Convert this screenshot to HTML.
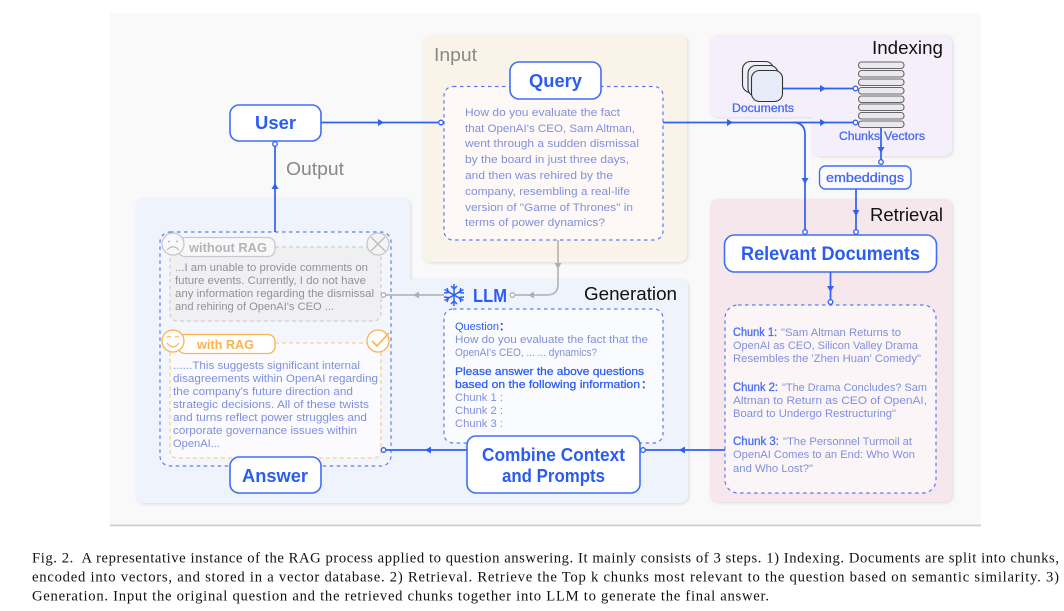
<!DOCTYPE html>
<html><head><meta charset="utf-8">
<style>
html,body{margin:0;padding:0;background:#fff;width:1064px;height:611px;overflow:hidden}
svg{display:block;position:absolute;left:0;top:0}
text{font-family:"Liberation Sans","Noto Sans CJK SC",sans-serif}
.t{font-size:11px;fill:#7f90dc}
.g{font-size:11px;fill:#929297}
.h{font-size:18px;fill:#111}
.o{font-size:18px;fill:#888}
.b{font-weight:bold;fill:#2b5cf2}
.l{font-size:11.500px;fill:#4a6df0;stroke:#4a6df0;stroke-width:.3}
.c{font-family:"Liberation Serif",serif;font-size:14.650px;fill:#111}
.w{fill:#fff;stroke:#3f6ff3;stroke-width:1.6}
.d{stroke:#5b7cf0;stroke-width:1.200;stroke-dasharray:3.500 3.500}
.ln{fill:none;stroke:#2f5ff3;stroke-width:1.700}
.gl{fill:none;stroke:#b6b6b6;stroke-width:1.700}
.a{fill:#2f5ff3}.ga{fill:#b0b0b0}
.dot{fill:#fff;stroke:#2f5ff3;stroke-width:1.300}
.gdot{fill:#fff;stroke:#b0b0b0;stroke-width:1.300}
.p{filter:drop-shadow(1px 1.5px 1.5px rgba(0,0,0,.12))}
.fig{filter:blur(.3px)}
</style></head><body>
<svg width="1064" height="611" viewBox="0 0 1064 611" xmlns="http://www.w3.org/2000/svg">
<rect width="1064" height="611" fill="#fff"/>
<rect x="110" y="13" width="871" height="513" fill="#f9f9f9"/>
<rect x="110" y="524.500" width="871" height="1.800" fill="#d0d0d0"/>
<g class="fig">
<!-- panels -->
<path class="p" d="M144 198H402a8 8 0 0 1 8 8V279H680a8 8 0 0 1 8 8V495a8 8 0 0 1-8 8H144a8 8 0 0 1-8-8V206a8 8 0 0 1 8-8Z" fill="#eff3fc"/>
<rect class="p" x="423" y="35" width="264" height="227" rx="8" fill="#faf3ea"/>
<path class="p" d="M718 35H944a8 8 0 0 1 8 8V148a8 8 0 0 1-8 8H820a8 8 0 0 1-8-8V117H718a8 8 0 0 1-8-8V43a8 8 0 0 1 8-8Z" fill="#f4effb"/>
<rect class="p" x="710" y="199" width="242" height="303" rx="8" fill="#f6e7ec"/>

<!-- panel titles -->
<text class="o" x="434" y="61" textLength="43" lengthAdjust="spacingAndGlyphs">Input</text>
<text class="o" x="286" y="175" textLength="58" lengthAdjust="spacingAndGlyphs">Output</text>
<text class="h" x="872" y="54" textLength="71" lengthAdjust="spacingAndGlyphs">Indexing</text>
<text class="h" x="870" y="221" textLength="73" lengthAdjust="spacingAndGlyphs">Retrieval</text>
<text class="h" x="584" y="300" textLength="93" lengthAdjust="spacingAndGlyphs">Generation</text>

<!-- dashed containers -->
<rect class="d" x="444" y="86.500" width="219" height="153.500" rx="9" fill="#fef9f6"/>
<rect class="d" x="444" y="309" width="219" height="134" rx="9" fill="#fafbfe"/>
<rect class="d" x="725" y="305" width="211" height="188" rx="13" fill="#fcf5f8"/>
<rect class="d" x="160" y="232" width="231" height="234" rx="10" fill="#f4f6fd"/>
<rect x="170" y="247" width="211" height="74" rx="7" fill="#f0f0f3" stroke="#cfcfcf" stroke-width="1.200" stroke-dasharray="4 3"/>
<rect x="170" y="343" width="211" height="115" rx="7" fill="#fafaff" stroke="#fbcf8f" stroke-width="1.300" stroke-dasharray="4 3"/>

<!-- connectors -->
<path class="ln" d="M321 122.500H441"/>
<path class="ln" d="M663 122.500H855"/>
<path class="ln" d="M793 122.500Q805 122.500 805 134.500V232"/>
<path class="ln" d="M783 88.500H855"/>
<path class="ln" d="M881 127V162"/>
<path class="ln" d="M856 189V232"/>
<path class="ln" d="M830.500 272V302"/>
<path class="ln" d="M725 450H643"/>
<path class="ln" d="M467 450H386"/>
<path class="ln" d="M275 232V144"/>
<path class="gl" d="M558 240V284Q558 295 547 295H515"/>
<path class="gl" d="M444 295H386"/>

<polygon class="a" points="378,119 384,122.500 378,126"/>
<polygon class="a" points="727,119 733,122.500 727,126"/>
<polygon class="a" points="820,119 826,122.500 820,126"/>
<polygon class="a" points="820,85 826,88.500 820,92"/>
<polygon class="a" points="801.500,178 808.500,178 805,184"/>
<polygon class="a" points="877.500,147 884.500,147 881,153"/>
<polygon class="a" points="852.500,210 859.500,210 856,216"/>
<polygon class="a" points="827,286 834,286 830.500,292"/>
<polygon class="a" points="685,446.500 679,450 685,453.500"/>
<polygon class="a" points="431,446.500 425,450 431,453.500"/>
<polygon class="a" points="271.500,189 278.500,189 275,183"/>
<polygon class="ga" points="554.500,263 561.500,263 558,269"/>
<polygon class="ga" points="534,291.500 528,295 534,298.500"/>
<polygon class="ga" points="419,291.500 413,295 419,298.500"/>

<circle class="dot" cx="441" cy="122.500" r="2.300"/>
<circle class="dot" cx="855.500" cy="122.500" r="2.300"/>
<circle class="dot" cx="855.500" cy="88.500" r="2.300"/>
<circle class="dot" cx="881" cy="162" r="2.300"/>
<circle class="dot" cx="856" cy="232" r="2.300"/>
<circle class="dot" cx="805" cy="232" r="2.300"/>
<circle class="dot" cx="830.500" cy="302" r="2.300"/>
<circle class="dot" cx="643" cy="450" r="2.300"/>
<circle class="dot" cx="383.500" cy="450" r="2.300"/>
<circle class="dot" cx="275" cy="144" r="2.300"/>
<circle class="gdot" cx="512.500" cy="295" r="2.300"/>
<circle class="gdot" cx="383.500" cy="295" r="2.300"/>

<!-- white nodes -->
<rect class="w" x="230" y="105" width="91" height="36" rx="9"/>
<rect class="w" x="510" y="62" width="91" height="37" rx="9"/>
<rect class="w" x="230" y="457" width="91" height="36" rx="9"/>
<rect class="w" x="467" y="436" width="173" height="57" rx="9"/>
<rect class="w" x="724.500" y="235" width="212" height="37" rx="10"/>
<rect x="819.500" y="166" width="91.500" height="23" rx="6" fill="#fafaff" stroke="#3f6ff3" stroke-width="1.400"/>

<text class="b" font-size="18" x="255" y="129" textLength="41" lengthAdjust="spacingAndGlyphs">User</text>
<text class="b" font-size="18" x="529" y="87" textLength="53" lengthAdjust="spacingAndGlyphs">Query</text>
<text class="b" font-size="18" x="242" y="482" textLength="66" lengthAdjust="spacingAndGlyphs">Answer</text>
<text class="b" font-size="18" x="482" y="461" textLength="143" lengthAdjust="spacingAndGlyphs">Combine Context</text>
<text class="b" font-size="18" x="502" y="482" textLength="103" lengthAdjust="spacingAndGlyphs">and Prompts</text>
<text class="b" font-size="19" x="741" y="260" textLength="179" lengthAdjust="spacingAndGlyphs">Relevant Documents</text>
<text class="b" font-size="18" x="473" y="302" textLength="34" lengthAdjust="spacingAndGlyphs">LLM</text>
<text font-size="13" fill="#4469f0" stroke="#4469f0" stroke-width=".3" x="826" y="182" textLength="78" lengthAdjust="spacingAndGlyphs">embeddings</text>
<text class="l" x="732" y="112" textLength="62" lengthAdjust="spacingAndGlyphs">Documents</text>
<text class="l" x="839" y="140" textLength="41" lengthAdjust="spacingAndGlyphs">Chunks</text>
<text class="l" x="884" y="140" textLength="41" lengthAdjust="spacingAndGlyphs">Vectors</text>

<!-- documents icon -->
<rect x="742.500" y="61.500" width="31" height="31" rx="8" fill="#eef0f8" stroke="#333" stroke-width="1.100"/>
<rect x="748" y="65.500" width="30" height="31" rx="8" fill="#e8ebf6" stroke="#333" stroke-width="1.100"/>
<rect x="751.500" y="70.500" width="31" height="31" rx="8" fill="#e8ecf8" stroke="#333" stroke-width="1.100"/>

<!-- chunk bars -->
<g fill="#e9e9ef" stroke="#666" stroke-width="1.100">
<rect x="858.500" y="62" width="45.500" height="6.500" rx="3"/>
<rect x="858.500" y="70.500" width="45.500" height="6.500" rx="3"/>
<rect x="858.500" y="79" width="45.500" height="6.500" rx="3"/>
<rect x="858.500" y="87.500" width="45.500" height="6.500" rx="3"/>
<rect x="858.500" y="96" width="45.500" height="6.500" rx="3"/>
<rect x="858.500" y="104" width="45.500" height="6.500" rx="3"/>
<rect x="858.500" y="112.500" width="45.500" height="6.500" rx="3"/>
<rect x="858.500" y="121" width="45.500" height="6.500" rx="3"/>
</g>

<!-- snowflake -->
<g stroke="#2f5ff3" stroke-width="1.500" fill="none">
<path d="M454 284V306M444.500 289.500L463.500 300.500M463.500 289.500L444.500 300.500"/>
<path d="M451 286L454 289L457 286M451 304L454 301L457 304"/>
<path d="M444 293L448.500 292.500L447 288M464 293L459.500 292.500L461 288M444 297L448.500 297.500L447 302M464 297L459.500 297.500L461 302"/>
</g>

<!-- query text -->
<text class="t" x="465" y="116" textLength="155" lengthAdjust="spacingAndGlyphs">How do you evaluate the fact</text>
<text class="t" x="465" y="132" textLength="170" lengthAdjust="spacingAndGlyphs">that OpenAI's CEO, Sam Altman,</text>
<text class="t" x="465" y="147" textLength="174" lengthAdjust="spacingAndGlyphs">went through a sudden dismissal</text>
<text class="t" x="465" y="163" textLength="164" lengthAdjust="spacingAndGlyphs">by the board in just three days,</text>
<text class="t" x="465" y="179" textLength="148" lengthAdjust="spacingAndGlyphs">and then was rehired by the</text>
<text class="t" x="465" y="195" textLength="165" lengthAdjust="spacingAndGlyphs">company, resembling a real-life</text>
<text class="t" x="465" y="211" textLength="168" lengthAdjust="spacingAndGlyphs">version of "Game of Thrones" in</text>
<text class="t" x="465" y="226" textLength="140" lengthAdjust="spacingAndGlyphs">terms of power dynamics?</text>

<!-- LLM prompt -->
<text class="b" font-size="11" x="455" y="330" textLength="44" lengthAdjust="spacingAndGlyphs" style="font-weight:normal">Question</text>
<text class="b" font-size="11" x="499" y="330">：</text>
<text class="t" x="455" y="343" textLength="193" lengthAdjust="spacingAndGlyphs">How do you evaluate the fact that the</text>
<text class="t" x="455" y="356" textLength="142" lengthAdjust="spacingAndGlyphs">OpenAI's CEO, ... ... dynamics?</text>
<text class="b" font-size="11" x="455" y="375" textLength="189" lengthAdjust="spacingAndGlyphs" style="font-weight:normal;stroke:#2b5cf2;stroke-width:.25">Please answer the above questions</text>
<text class="b" font-size="11" x="455" y="388" textLength="185" lengthAdjust="spacingAndGlyphs" style="font-weight:normal;stroke:#2b5cf2;stroke-width:.25">based on the following information</text>
<text class="b" font-size="11" x="641" y="388">：</text>
<text class="t" x="455" y="401" textLength="48" lengthAdjust="spacingAndGlyphs">Chunk 1 :</text>
<text class="t" x="455" y="414" textLength="48" lengthAdjust="spacingAndGlyphs">Chunk 2 :</text>
<text class="t" x="455" y="427" textLength="48" lengthAdjust="spacingAndGlyphs">Chunk 3 :</text>

<!-- chunks -->
<text class="l" x="733" y="336" textLength="44" lengthAdjust="spacingAndGlyphs">Chunk 1:</text>
<text class="t" x="781" y="336" textLength="120" lengthAdjust="spacingAndGlyphs">"Sam Altman Returns to</text>
<text class="t" x="733" y="349" textLength="185" lengthAdjust="spacingAndGlyphs">OpenAI as CEO, Silicon Valley Drama</text>
<text class="t" x="733" y="362" textLength="188" lengthAdjust="spacingAndGlyphs">Resembles the 'Zhen Huan' Comedy"</text>
<text class="l" x="733" y="391" textLength="45" lengthAdjust="spacingAndGlyphs">Chunk 2:</text>
<text class="t" x="782" y="391" textLength="145" lengthAdjust="spacingAndGlyphs">"The Drama Concludes? Sam</text>
<text class="t" x="733" y="404" textLength="194" lengthAdjust="spacingAndGlyphs">Altman to Return as CEO of OpenAI,</text>
<text class="t" x="733" y="417" textLength="163" lengthAdjust="spacingAndGlyphs">Board to Undergo Restructuring"</text>
<text class="l" x="733" y="445" textLength="46" lengthAdjust="spacingAndGlyphs">Chunk 3:</text>
<text class="t" x="783" y="445" textLength="129" lengthAdjust="spacingAndGlyphs">"The Personnel Turmoil at</text>
<text class="t" x="733" y="458" textLength="182" lengthAdjust="spacingAndGlyphs">OpenAI Comes to an End: Who Won</text>
<text class="t" x="733" y="472" textLength="80" lengthAdjust="spacingAndGlyphs">and Who Lost?"</text>

<!-- without RAG -->
<rect x="178" y="237.500" width="97" height="19" rx="7" fill="#f8f8fa" stroke="#c8c8c8" stroke-width="1.300"/>
<text x="189" y="252" font-size="13" font-weight="bold" fill="#b4b4b4" textLength="78" lengthAdjust="spacingAndGlyphs">without RAG</text>
<circle cx="173" cy="244" r="11" fill="#f8f8fa" stroke="#c8c8c8" stroke-width="1.300"/>
<circle cx="169" cy="241.500" r=".9" fill="#aaa"/><circle cx="177" cy="241.500" r=".9" fill="#aaa"/>
<path d="M167 250Q173 243.500 179 250" fill="none" stroke="#bbb" stroke-width="1.200"/>
<circle cx="378" cy="244" r="11" fill="#f4f4f6" stroke="#c8c8c8" stroke-width="1.300"/>
<path d="M371 237L385 251M385 237L371 251" stroke="#bbb" stroke-width="1.300"/>
<text class="g" x="175" y="271" textLength="193" lengthAdjust="spacingAndGlyphs">...I am unable to provide comments on</text>
<text class="g" x="175" y="284" textLength="191" lengthAdjust="spacingAndGlyphs">future events. Currently, I do not have</text>
<text class="g" x="175" y="297" textLength="199" lengthAdjust="spacingAndGlyphs">any information regarding the dismissal</text>
<text class="g" x="175" y="310" textLength="159" lengthAdjust="spacingAndGlyphs">and rehiring of OpenAI's CEO ...</text>

<!-- with RAG -->
<rect x="178" y="334.500" width="97" height="19" rx="7" fill="#fff" stroke="#fbb24f" stroke-width="1.300"/>
<text x="197" y="349" font-size="13" font-weight="bold" fill="#fbb24f" textLength="57" lengthAdjust="spacingAndGlyphs">with RAG</text>
<circle cx="173" cy="341" r="11" fill="#fff" stroke="#fbb24f" stroke-width="1.300"/>
<path d="M167 337.500Q169 335 171 337.500M175 337.500Q177 335 179 337.500" fill="none" stroke="#fbb24f" stroke-width="1.100"/>
<path d="M167 343Q173 351 179 343" fill="none" stroke="#fbb24f" stroke-width="1.200"/>
<circle cx="378" cy="341" r="11" fill="#fff" stroke="#fbb24f" stroke-width="1.300"/>
<path d="M372 341L377 346L389 333" fill="none" stroke="#fbb24f" stroke-width="1.600"/>
<text class="t" x="173" y="369" textLength="187" lengthAdjust="spacingAndGlyphs">......This suggests significant internal</text>
<text class="t" x="173" y="382" textLength="205" lengthAdjust="spacingAndGlyphs">disagreements within OpenAI regarding</text>
<text class="t" x="173" y="395" textLength="180" lengthAdjust="spacingAndGlyphs">the company's future direction and</text>
<text class="t" x="173" y="408" textLength="196" lengthAdjust="spacingAndGlyphs">strategic decisions. All of these twists</text>
<text class="t" x="173" y="421" textLength="194" lengthAdjust="spacingAndGlyphs">and turns reflect power struggles and</text>
<text class="t" x="173" y="434" textLength="184" lengthAdjust="spacingAndGlyphs">corporate governance issues within</text>
<text class="t" x="173" y="447" textLength="47" lengthAdjust="spacingAndGlyphs">OpenAI...</text>
</g>

<!-- caption -->
<text class="c" x="32" y="562.500" textLength="1027" xml:space="preserve">Fig. 2.  A representative instance of the RAG process applied to question answering. It mainly consists of 3 steps. 1) Indexing. Documents are split into chunks,</text>
<text class="c" x="32" y="581.500" textLength="1027">encoded into vectors, and stored in a vector database. 2) Retrieval. Retrieve the Top k chunks most relevant to the question based on semantic similarity. 3)</text>
<text class="c" x="32" y="600.500" textLength="737">Generation. Input the original question and the retrieved chunks together into LLM to generate the final answer.</text>
</svg>
</body></html>
